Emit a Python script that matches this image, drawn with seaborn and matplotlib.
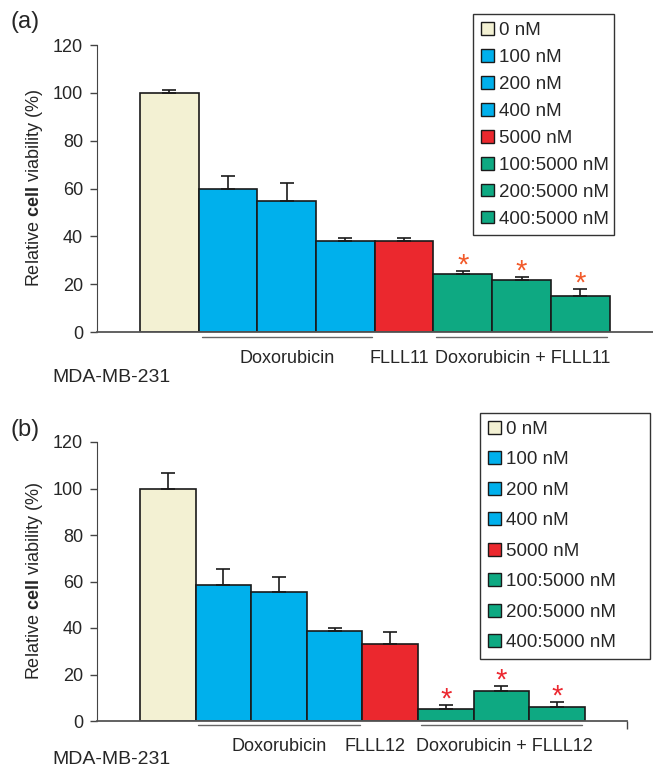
# Libraries
import numpy as np
import seaborn as sns
import matplotlib.pyplot as plt
from matplotlib.patches import Patch
from matplotlib.transforms import blended_transform_factory

# Data
conditions = ["0 nM", "100 nM", "200 nM", "400 nM", "5000 nM",
              "100:5000 nM", "200:5000 nM", "400:5000 nM"]
bar_colors = ["#F3F1D3", "#00B0EC", "#00B0EC", "#00B0EC", "#EB282E",
              "#0EA982", "#0EA982", "#0EA982"]

viab_a = [100, 59.7, 54.8, 38.2, 38.2, 24.2, 21.8, 15.0]
err_a = [1.3, 5.6, 7.3, 1.3, 1.3, 1.2, 1.1, 3.0]
star_a = [5, 6, 7]

viab_b = [100, 58.7, 55.4, 38.5, 33.1, 5.3, 12.9, 5.9]
err_b = [6.6, 6.5, 6.7, 1.6, 5.0, 1.6, 2.2, 2.3]
star_b = [5, 6, 7]

groups_a = ["Doxorubicin", "FLLL11", "Doxorubicin + FLLL11"]
groups_b = ["Doxorubicin", "FLLL12", "Doxorubicin + FLLL12"]
cell_line = "MDA-MB-231"
ylabel = r"Relative $\mathbf{cell}$ viability (%)"

# Settings
sns.set_style("ticks")
plt.rcParams["font.family"] = ["Liberation Sans", "DejaVu Sans"]
plt.rcParams["font.size"] = 13
plt.rcParams["mathtext.fontset"] = "custom"
plt.rcParams["mathtext.rm"] = "Liberation Sans"
plt.rcParams["mathtext.bf"] = "Liberation Sans:bold"

W, H = 653, 768
fig = plt.figure(figsize=(W / 100, H / 100), dpi=100)


def px_box(left, top, right, bottom):
    return [left / W, 1 - bottom / H, (right - left) / W, (bottom - top) / H]


def draw_panel(ax, values, errs, stars, groups, group_x, star_color,
               xlim, legend_box, legend_spacing, right_tick):
    sns.barplot(x=conditions, y=values, hue=conditions, order=conditions,
                hue_order=conditions, palette=bar_colors, width=1,
                saturation=1, edgecolor="#1a1a1a", linewidth=1.2,
                legend=False, ax=ax)

    x = np.arange(len(values))
    ax.errorbar(x, values, yerr=[np.zeros(len(errs)), errs], fmt="none",
                ecolor="#1a1a1a", elinewidth=1.2, capsize=4.8, capthick=1.2)

    for i in stars:
        ax.annotate("*", (x[i], values[i] + errs[i]), xytext=(0, -6),
                    textcoords="offset points", ha="center", va="bottom",
                    fontsize=21, color=star_color)

    ax.set_ylim(0, 120)
    ax.set_yticks(range(0, 121, 20))
    ax.set_xlim(*xlim)
    if right_tick:
        ax.set_xticks([xlim[1]])
        ax.set_xticklabels([""])
        ax.tick_params(axis="x", length=6, width=1, color="#444444")
    else:
        ax.set_xticks([])
    ax.set_xlabel("")
    ax.set_ylabel(ylabel, fontsize=13, labelpad=6)
    ax.tick_params(axis="y", length=5, width=1, pad=5, labelsize=13,
                   color="#444444")

    sns.despine(ax=ax)
    ax.spines["left"].set_color("#444444")
    ax.spines["bottom"].set_color("#555555")
    ax.spines["bottom"].set_linewidth(1.3)

    # group brackets below the bars
    trans = blended_transform_factory(ax.transData, ax.transAxes)
    for x0, x1 in [(0.55, 3.45), (4.55, 7.45)]:
        ax.plot([x0, x1], [-0.016, -0.016], color="#666666", lw=1,
                transform=trans, clip_on=False)
    for name, gx in zip(groups, group_x):
        ax.text(gx, -0.092, name, transform=trans, ha="center", va="center",
                fontsize=13)

    # legend box given as (left, top, right) in pixels
    left, top, right = legend_box
    handles = [Patch(facecolor=c, edgecolor="#1a1a1a", linewidth=1)
               for c in bar_colors]
    leg = ax.legend(handles, conditions, loc="upper left", mode="expand",
                    bbox_to_anchor=(left / W, 1 - top / H, (right - left) / W, 0),
                    bbox_transform=fig.transFigure, borderaxespad=0,
                    fancybox=False, framealpha=1, edgecolor="#333333",
                    fontsize=13.5, handlelength=0.68, handleheight=0.68,
                    handletextpad=0.3, labelspacing=legend_spacing,
                    borderpad=0.42)
    leg.get_frame().set_linewidth(1)


# Panel (a)
ax_a = fig.add_axes(px_box(97, 45, 653, 332))
draw_panel(ax_a, viab_a, err_a, star_a, groups_a, [2.0, 3.92, 6.02],
           "#F25A2A", (-1.233, 8.24), (473, 14, 614), 0.53, False)
fig.text(10 / W, 1 - 22 / H, "(a)", fontsize=17, va="center")
fig.text(52 / W, 1 - 377 / H, cell_line, fontsize=14, va="center")

# Panel (b)
ax_b = fig.add_axes(px_box(97, 442, 627, 721))
draw_panel(ax_b, viab_b, err_b, star_b, groups_b, [2.0, 3.72, 6.06],
           "#EC2830", (-1.273, 8.26), (480, 413, 650), 0.72, True)
fig.text(10 / W, 1 - 430 / H, "(b)", fontsize=17, va="center")
fig.text(52 / W, 1 - 759 / H, cell_line, fontsize=14, va="center")

plt.savefig("out.png", dpi=100)
